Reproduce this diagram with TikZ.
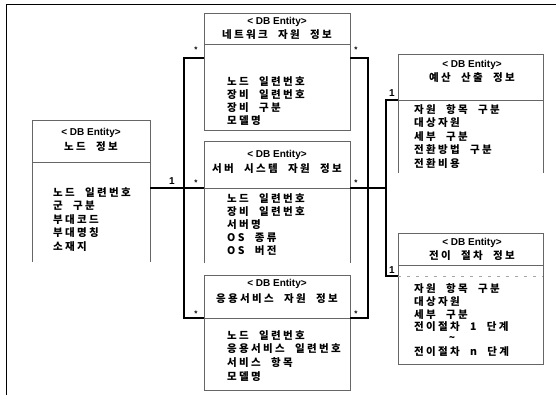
\documentclass[tikz,border=0pt]{standalone}
\usepackage{fontspec}
\setmainfont{Liberation Sans}
\newfontfamily\kr{Noto Sans CJK KR}[LetterSpace=22,WordSpace=2.2]
\begin{document}
\begin{tikzpicture}[x=1pt,y=-1pt,
  boxline/.style={draw=black!60, line width=0.5pt},
  box/.style={boxline, inner sep=0pt, outer sep=0pt, anchor=north west},
  openbox/.style={inner sep=0pt, outer sep=0pt, anchor=north west},
  conn/.style={line width=1.8pt, black},
  frame/.style={line width=1pt, black},
  ttl/.style={font=\bfseries\fontsize{10}{12}\selectfont, inner sep=0pt, anchor=center},
  kttl/.style={font=\kr\bfseries\fontsize{10.5}{12}\selectfont, inner sep=0pt, anchor=center},
  item/.style={font=\kr\bfseries\fontsize{10.5}{12}\selectfont, inner sep=0pt, anchor=west},
  mult/.style={font=\bfseries\fontsize{10}{12}\selectfont, inner sep=0pt, anchor=center},
  star/.style={font=\bfseries\fontsize{8}{9}\selectfont, inner sep=0pt, anchor=center}]
\useasboundingbox (0,0) rectangle (556,395);
% frame
\draw[frame] (6,395) -- (6,5) -- (556,5);

% ---- node info
\node[box, minimum width=118pt, minimum height=42pt] (nodeH) at (32,120) {};
\node[openbox, minimum width=118pt, minimum height=100pt] (nodeB) at (32,162) {};
\draw[boxline] (nodeB.south west) -- (nodeB.north west) -- (nodeB.north east) -- (nodeB.south east);
\node[ttl] (nodeT1) at (91,133) {< DB Entity>};
\node[kttl] (nodeT2) at (91,147) {노드 정보};
\node[item] (nodeI1) at (53,193) {노드 일련번호};
\node[item] (nodeI2) at (53,206) {군 구분};
\node[item] (nodeI3) at (53,220) {부대코드};
\node[item] (nodeI4) at (53,233) {부대명칭};
\node[item] (nodeI5) at (53,247) {소재지};

% ---- network
\node[box, minimum width=146pt, minimum height=31pt] (netH) at (204,13) {};
\node[box, minimum width=146pt, minimum height=86pt] (netB) at (204,44) {};
\node[ttl] (netT1) at (277,22) {< DB Entity>};
\node[kttl] (netT2) at (277,35) {네트워크 자원 정보};
\node[item] (netI1) at (227,82) {노드 일련번호};
\node[item] (netI2) at (227,95) {장비 일련번호};
\node[item] (netI3) at (227,108) {장비 구분};
\node[item] (netI4) at (227,121) {모델명};

% ---- server
\node[box, minimum width=146pt, minimum height=47pt] (srvH) at (204,141) {};
\node[openbox, minimum width=146pt, minimum height=75pt] (srvB) at (204,188) {};
\draw[boxline] (srvB.south west) -- (srvB.north west) -- (srvB.north east) -- (srvB.south east);
\node[ttl] (srvT1) at (277,155) {< DB Entity>};
\node[kttl] (srvT2) at (277,169) {서버 시스템 자원 정보};
\node[item] (srvI1) at (227,199) {노드 일련번호};
\node[item] (srvI2) at (227,212) {장비 일련번호};
\node[item] (srvI3) at (227,225) {서버명};
\node[item] (srvI4) at (227,238) {OS 종류};
\node[item] (srvI5) at (227,251) {OS 버전};

% ---- application service
\node[box, minimum width=146pt, minimum height=43pt] (appH) at (204,275) {};
\node[box, minimum width=146pt, minimum height=72pt] (appB) at (204,318) {};
\node[ttl] (appT1) at (277,284) {< DB Entity>};
\node[kttl] (appT2) at (277,299) {응용서비스 자원 정보};
\node[item] (appI1) at (227,336) {노드 일련번호};
\node[item] (appI2) at (227,349) {응용서비스 일련번호};
\node[item] (appI3) at (227,363) {서비스 항목};
\node[item] (appI4) at (227,377) {모델명};

% ---- budget
\node[box, minimum width=145pt, minimum height=46pt] (budH) at (398,54) {};
\node[openbox, minimum width=145pt, minimum height=73pt] (budB) at (398,100) {};
\draw[boxline] (budB.south west) -- (budB.north west) -- (budB.north east) -- (budB.south east);
\node[ttl] (budT1) at (472,65) {< DB Entity>};
\node[kttl] (budT2) at (472,78) {예산 산출 정보};
\node[item] (budI1) at (414,110) {자원 항목 구분};
\node[item] (budI2) at (414,123) {대상자원};
\node[item] (budI3) at (414,137) {세부 구분};
\node[item] (budI4) at (414,150) {전환방법 구분};
\node[item] (budI5) at (414,164) {전환비용};

% ---- transition
\node[box, minimum width=145pt, minimum height=32pt] (trH) at (398,233) {};
\node[box, minimum width=145pt, minimum height=99pt] (trB) at (398,265) {};
\node[ttl] (trT1) at (472,243) {< DB Entity>};
\node[kttl] (trT2) at (472,256) {전이 절차 정보};
\draw[draw=black!35, line width=0.4pt, dash pattern=on 3pt off 6pt] (trB.west |- 0,276) -- (trB.east |- 0,276);
\node[item] (trI1) at (414,289) {자원 항목 구분};
\node[item] (trI2) at (414,302) {대상자원};
\node[item] (trI3) at (414,315) {세부 구분};
\node[item] (trI4) at (414,327) {전이절차 1 단계};
\node[kttl] (trI5) at (452,339) {\textasciitilde};
\node[item] (trI6) at (414,352) {전이절차 n 단계};

% ---- connectors
\coordinate (lt) at (184,58);
\coordinate (lb) at (184,318);
\coordinate (rt) at (368,58);
\coordinate (rb) at (368,318);
\coordinate (mid) at (184,188);
\coordinate (vt) at (386,100);
\coordinate (vb) at (386,276);
\draw[conn] (lt -| netB.west) -- (lt) -- (lb) -- (appH.south west);
\draw[conn] (rt -| netB.east) -- (rt) -- (rb) -- (appH.south east);
\draw[conn] (mid -| nodeB.east) -- (srvH.south west);
\draw[conn] (srvH.south east) -- (mid -| vt);
\draw[conn] (budH.south west) -- (vt) -- (vb) -- (vb -| trB.west);

% multiplicities
\node[mult] (m1) at (172,181) {1};
\node[mult] (m2) at (392,93) {1};
\node[mult] (m3) at (392,270) {1};
\node[star] (s1) at (196,50) {*};
\node[star] (s2) at (356,50) {*};
\node[star] (s3) at (196,183) {*};
\node[star] (s4) at (356,183) {*};
\node[star] (s5) at (196,314) {*};
\node[star] (s6) at (356,314) {*};
\end{tikzpicture}
\end{document}
